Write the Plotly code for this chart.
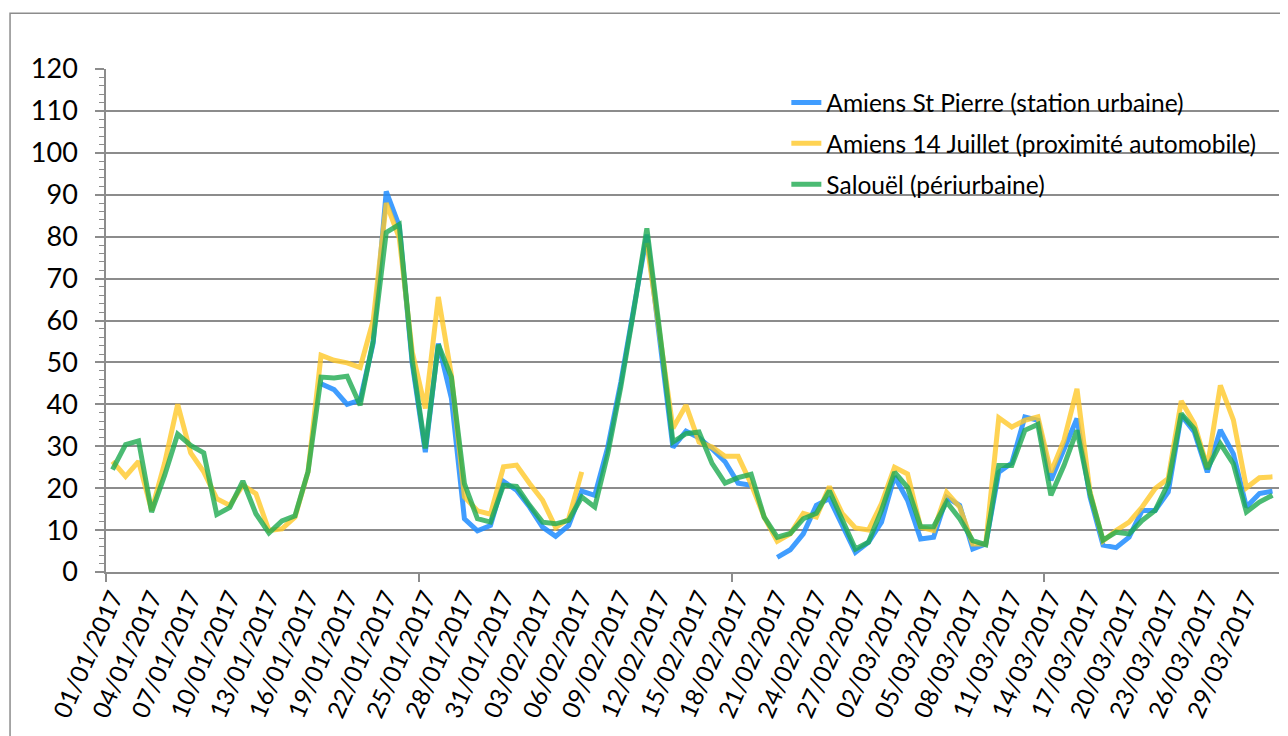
import pandas as pd
import plotly.graph_objects as go

# colours
BLUE = 'rgba(30,140,255,0.85)'
YELLOW = 'rgba(255,200,40,0.8)'
GREEN = 'rgba(30,170,80,0.8)'
GRID = '#8c8c8c'
FONT = 'Lato'

dates = pd.date_range('2017-01-01', '2017-03-31', freq='D')

st_pierre = [
    None, None, None, None, None, None, None, None, None, None,
    None, None, None, None, None, None, 44.9, 43.5, 40.0, 41.0,
    54.6, 90.8, 82.5, 49.7, 28.6, 54.5, 41.5, 12.7, 9.8, 11.1,
    21.6, 19.5, 15.5, 10.7, 8.5, 11.1, 19.3, 18.3, 29.8, 45.3,
    63.0, 80.5, 55.0, 29.7, 33.6, 32.0, 29.4, 26.3, 21.2, 20.7,
    None, 3.5, 5.3, 9.1, 15.9, 17.5, 11.1, 4.7, 7.1, 11.9,
    22.8, 17.1, 7.9, 8.3, 17.8, 15.9, 5.5, 6.7, 23.8, 26.0,
    37.0, 36.2, 21.9, 29.0, 36.6, 17.9, 6.4, 5.8, 8.3, 14.7,
    14.7, 19.1, 37.4, 33.4, 23.8, 33.9, 28.2, 15.5, 18.7, 19.3,
]

juillet = [
    26.4, 22.8, 26.4, 14.7, 26.0, 40.0, 28.4, 23.9, 17.5, 15.9,
    20.7, 18.7, 9.9, 10.3, 13.1, 23.9, 51.7, 50.5, 49.9, 48.8,
    60.0, 88.0, 79.7, 52.5, 39.0, 65.6, 47.0, 17.9, 14.6, 13.8,
    25.1, 25.5, 21.1, 17.1, 10.6, 12.7, 23.9, None, None, None,
    None, 78.5, 57.0, 34.3, 39.8, 31.0, 29.8, 27.6, 27.6, 21.0,
    13.1, 7.3, 9.1, 14.0, 13.1, 20.4, 13.9, 10.5, 10.0, 16.3,
    25.0, 23.4, 10.7, 9.9, 19.0, 15.5, 6.7, 6.7, 36.8, 34.6,
    36.2, 37.0, 23.8, 31.4, 43.7, 19.1, 7.4, 9.9, 11.9, 15.5,
    19.9, 22.3, 40.8, 35.4, 25.0, 44.5, 36.3, 20.1, 22.5, 22.7,
]

salouel = [
    24.4, 30.4, 31.3, 14.3, 23.1, 32.9, 30.2, 28.4, 13.7, 15.4,
    21.7, 13.9, 9.3, 12.2, 13.4, 23.9, 46.5, 46.3, 46.7, 39.8,
    55.2, 81.0, 82.9, 50.5, 29.5, 54.2, 46.5, 21.1, 12.7, 11.9,
    20.7, 20.4, 15.9, 11.9, 11.5, 12.3, 17.9, 15.5, 28.2, 44.2,
    62.5, 82.0, 57.0, 31.0, 33.0, 33.4, 25.9, 21.2, 22.5, 23.3,
    13.1, 8.3, 9.2, 12.7, 14.0, 19.4, 12.4, 5.5, 7.1, 14.7,
    23.8, 20.2, 10.8, 10.8, 16.7, 12.7, 7.5, 6.5, 25.4, 25.4,
    33.8, 35.2, 18.3, 25.4, 33.8, 18.7, 7.6, 9.5, 9.1, 12.3,
    14.7, 21.1, 37.8, 34.2, 24.6, 30.6, 25.8, 14.3, 16.7, 18.3,
]

series = [
    ('Amiens St Pierre (station urbaine)', st_pierre, BLUE),
    ('Amiens 14 Juillet (proximité automobile)', juillet, YELLOW),
    ('Salouël (périurbaine)', salouel, GREEN),
]

DAY = 86400000

fig = go.Figure()
for i, (name, values, color) in enumerate(series):
    fig.add_trace(go.Scatter(
        x=dates, y=values, name=name, mode='lines',
        line=dict(color=color, width=5),
        legendgroup=str(i),
    ))

# page body has an 8px margin, so the figure is 8px smaller
fig.update_layout(
    width=1280, height=728,
    margin=dict(l=98, r=9, t=61, b=164),
    paper_bgcolor='white',
    plot_bgcolor='white',
    font=dict(family=FONT, color='black'),
    showlegend=True,
    legend=dict(
        x=0.58, y=0.978, xanchor='left', yanchor='top',
        bgcolor='rgba(0,0,0,0)',
        font=dict(size=24.5, family=FONT),
        tracegroupgap=6,
    ),
    xaxis=dict(
        type='date',
        range=['2016-12-31 12:00', '2017-03-31 12:00'],
        tick0='2017-01-01', dtick=3 * DAY,
        tickformat='%d/%m/%Y',
        tickangle=-66,
        tickfont=dict(size=24.5),
        ticks='',
        showgrid=False,
        showline=True, linecolor=GRID, linewidth=1.5,
        minor=dict(
            tick0='2016-12-31 12:00', dtick=24 * DAY,
            ticks='outside', ticklen=8, tickcolor=GRID, tickwidth=1.5,
            showgrid=False,
        ),
    ),
    yaxis=dict(
        range=[0, 120],
        dtick=10,
        tickfont=dict(size=27),
        ticks='outside', ticklen=9, tickcolor=GRID, tickwidth=1.5,
        showgrid=True, gridcolor=GRID, gridwidth=1.5,
        showline=True, linecolor=GRID, linewidth=1.5,
        zeroline=False,
        minor=dict(dtick=2, ticks='outside', ticklen=5,
                   tickcolor=GRID, tickwidth=1.2, showgrid=False),
        ticklabelstandoff=12,
    ),
    # outer chart frame
    shapes=[dict(
        type='rect', xref='paper', yref='paper',
        x0=-0.0818, x1=1.2, y0=-0.6, y1=1.111,
        line=dict(color=GRID, width=1.5), fillcolor='rgba(0,0,0,0)',
        layer='below',
    )],
)

fig.write_html('out.html')
